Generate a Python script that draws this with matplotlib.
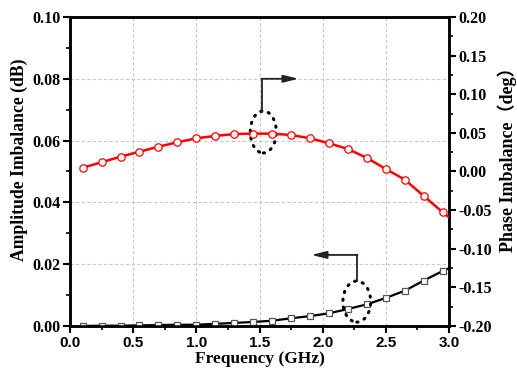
import numpy as np
import matplotlib
matplotlib.use('Agg')
import matplotlib.pyplot as plt
from matplotlib.patches import Ellipse
from matplotlib.ticker import MultipleLocator

# frequency points (GHz), markers every 0.15 GHz, curve ends at 3.0
freq = [0.1, 0.25, 0.4, 0.55, 0.7, 0.85, 1.0, 1.15, 1.3, 1.45,
        1.6, 1.75, 1.9, 2.05, 2.2, 2.35, 2.5, 2.65, 2.8, 2.95, 3.0]

amp_imb = [0.0000, 0.0001, 0.0001, 0.0002, 0.0003, 0.0004, 0.0004, 0.0007, 0.0010, 0.0013,
           0.0017, 0.0025, 0.0032, 0.0041, 0.0055, 0.0070, 0.0091, 0.0114, 0.0147, 0.0178, 0.0187]

phase_imb = [0.0049, 0.0119, 0.0192, 0.0256, 0.0321, 0.0378, 0.0430, 0.0460, 0.0485, 0.0490,
             0.0490, 0.0472, 0.0430, 0.0365, 0.0291, 0.0175, 0.0032, -0.0106, -0.0317, -0.0528, -0.0593]

x_ticks = [0.0, 0.5, 1.0, 1.5, 2.0, 2.5, 3.0]
left_ticks = [0.00, 0.02, 0.04, 0.06, 0.08, 0.10]
right_ticks = [-0.20, -0.15, -0.10, -0.05, 0.00, 0.05, 0.10, 0.15, 0.20]

serif = 'Liberation Serif'
sans = 'Liberation Sans'

fig = plt.figure(figsize=(5.17, 3.75), dpi=100)
ax = fig.add_axes([0.1354, 0.1307, 0.7331, 0.824])
ax2 = ax.twinx()

n_mark = list(range(20))
ax.plot(freq, amp_imb, color='black', lw=1.6, marker='s', ms=4.8, mfc='white',
        mec='#555555', mew=0.9, markevery=n_mark, zorder=3)
ax2.plot(freq, phase_imb, color='red', lw=1.8, marker='o', ms=5.3, mfc='white',
         mec='red', mew=0.9, markevery=n_mark, zorder=3)

ax.set_xlim(0, 3.0)
ax.set_ylim(0, 0.10)
ax2.set_ylim(-0.20, 0.20)

ax.set_xticks(x_ticks)
ax.set_xticklabels([f'{v:.1f}' for v in x_ticks], fontfamily=sans, fontweight='bold', fontsize=11)
ax.set_yticks(left_ticks)
ax.set_yticklabels([f'{v:.2f}' for v in left_ticks], fontfamily=serif, fontweight='bold', fontsize=11.5)
ax2.set_yticks(right_ticks)
ax2.set_yticklabels([f'{v:.2f}' for v in right_ticks], fontfamily=serif, fontweight='bold', fontsize=11.5)

ax.xaxis.set_minor_locator(MultipleLocator(0.25))
ax.yaxis.set_minor_locator(MultipleLocator(0.01))
ax2.yaxis.set_minor_locator(MultipleLocator(0.025))

for a in (ax, ax2):
    a.tick_params(which='major', direction='out', length=5, width=1.5, pad=2)
    a.tick_params(which='minor', direction='out', length=3, width=1.2)
    for s in a.spines.values():
        s.set_linewidth(1.8)
ax.tick_params(axis='x', which='both', top=False)

ax.grid(True, which='major', linestyle=(0, (3, 2)), color='#c8c8c8', lw=0.8)
ax.set_axisbelow(True)

ax.set_xlabel('Frequency (GHz)', fontfamily=serif, fontweight='bold', fontsize=12.5, labelpad=1)
ax.set_ylabel('Amplitude Imbalance (dB)', fontfamily=serif, fontweight='bold', fontsize=12.7)
ax.yaxis.set_label_coords(-0.111, 0.537)
ax2.set_ylabel('Phase Imbalance（deg）', family=[serif, 'Noto Sans CJK SC'],
               fontweight='bold', fontsize=13)
ax2.yaxis.set_label_coords(1.127, 0.553)

# dotted ellipses with elbow arrows
dot = (0, (0.4, 2.2))
ax.add_patch(Ellipse((1.53, 0.0628), 0.206, 0.0136, fill=False, ec='black',
                     lw=2.2, linestyle=dot, capstyle='round', zorder=5))
ax.plot([1.52, 1.52], [0.0693, 0.080], color='#222222', lw=1.3, zorder=5)
ax.annotate('', xy=(1.81, 0.080), xytext=(1.515, 0.080),
            arrowprops=dict(arrowstyle='-|>,head_length=0.9,head_width=0.22',
                            color='#222222', lw=1.3, shrinkA=0, shrinkB=0), zorder=5)

ax.add_patch(Ellipse((2.27, 0.0079), 0.22, 0.0133, fill=False, ec='black',
                     lw=2.2, linestyle=dot, capstyle='round', zorder=5))
ax.plot([2.27, 2.27], [0.0146, 0.023], color='#222222', lw=1.3, zorder=5)
ax.annotate('', xy=(1.91, 0.023), xytext=(2.275, 0.023),
            arrowprops=dict(arrowstyle='-|>,head_length=0.9,head_width=0.22',
                            color='#222222', lw=1.3, shrinkA=0, shrinkB=0), zorder=5)

fig.savefig('out.png', dpi=100)
